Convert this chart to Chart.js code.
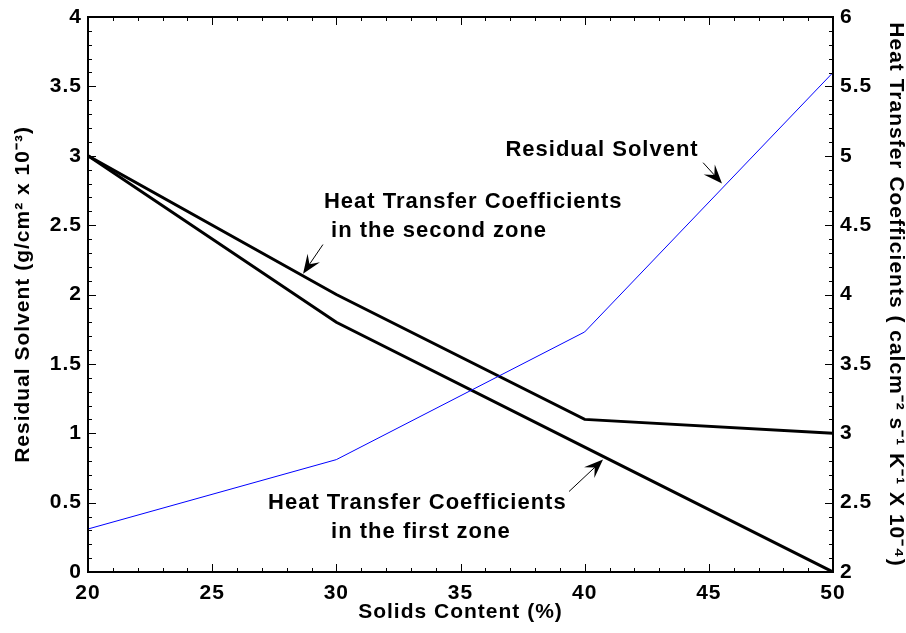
<!DOCTYPE html>
<html>
<head>
<meta charset="utf-8">
<script src="https://cdn.jsdelivr.net/npm/chart.js@4"></script>
<style>
  html, body { margin: 0; padding: 0; background: #fff; }
  #wrap { width: 906px; height: 633px; position: relative; }
</style>
</head>
<body>
<div id="wrap"><canvas id="chart"></canvas></div>
<script>
  const solids = [20, 30, 40, 50];
  const residualSolvent = [0.31, 0.81, 1.73, 3.6];
  const htcSecondZone = [5.0, 4.0, 3.1, 3.0];
  const htcFirstZone = [5.0, 3.8, 2.9, 2.0];

  const FONT = '"Liberation Sans", Arial, sans-serif';

  // annotation texts and arrows, in data units (x, left y)
  const notes = [
    { text: "Residual Solvent", x: 40.7, y: 3.04, align: "center" },
    { text: "Heat Transfer Coefficients", x: 29.5, y: 2.67, align: "left" },
    { text: " in the second zone", x: 29.5, y: 2.46, align: "left" },
    { text: "Heat Transfer Coefficients", x: 27.25, y: 0.50, align: "left" },
    { text: "in the first zone", x: 29.79, y: 0.29, align: "left" },
  ];
  const arrows = [
    { from: [44.77, 2.95], to: [45.53, 2.80] },
    { from: [29.46, 2.36], to: [28.66, 2.15] },
    { from: [39.37, 0.58], to: [40.74, 0.81] },
  ];

  const spacingPlugin = {
    id: "spacing",
    beforeDraw(chart) { chart.ctx.letterSpacing = "1px"; }
  };

  const framePlugin = {
    id: "frame",
    afterDatasetsDraw(chart) {
      const { ctx, chartArea: a, scales } = chart;
      ctx.save();
      ctx.strokeStyle = "#000";
      ctx.lineWidth = 2;
      ctx.strokeRect(a.left, a.top, a.right - a.left, a.bottom - a.top);

      // inward ticks, minor + major
      ctx.lineWidth = 1;
      ctx.beginPath();
      for (let v = 20; v <= 50; v++) {
        const px = Math.round(scales.x.getPixelForValue(v)) + 0.5;
        const len = v % 5 === 0 ? 8 : 4;
        ctx.moveTo(px, a.bottom); ctx.lineTo(px, a.bottom - len);
        ctx.moveTo(px, a.top); ctx.lineTo(px, a.top + len);
      }
      for (let i = 0; i <= 40; i++) {
        const py = Math.round(scales.y.getPixelForValue(i / 10)) + 0.5;
        const len = i % 5 === 0 ? 8 : 4;
        ctx.moveTo(a.left, py); ctx.lineTo(a.left + len, py);
      }
      for (let i = 20; i <= 60; i++) {
        const py = Math.round(scales.y1.getPixelForValue(i / 10)) + 0.5;
        const len = i % 5 === 0 ? 8 : 4;
        ctx.moveTo(a.right, py); ctx.lineTo(a.right - len, py);
      }
      ctx.stroke();

      // annotations
      ctx.fillStyle = "#000";
      ctx.font = "bold 22px " + FONT;
      ctx.letterSpacing = "1px";
      ctx.textBaseline = "middle";
      notes.forEach(n => {
        ctx.textAlign = n.align;
        ctx.fillText(n.text, scales.x.getPixelForValue(n.x), scales.y.getPixelForValue(n.y));
      });
      arrows.forEach(ar => {
        const x0 = scales.x.getPixelForValue(ar.from[0]), y0 = scales.y.getPixelForValue(ar.from[1]);
        const x1 = scales.x.getPixelForValue(ar.to[0]), y1 = scales.y.getPixelForValue(ar.to[1]);
        const ang = Math.atan2(y1 - y0, x1 - x0), c = Math.cos(ang), s = Math.sin(ang);
        const L = 19, W = 7.5;
        ctx.beginPath();
        ctx.moveTo(x0, y0);
        ctx.lineTo(x1 - c * 10, y1 - s * 10);
        ctx.stroke();
        ctx.beginPath();
        ctx.moveTo(x1, y1);
        ctx.lineTo(x1 - L * c + W * s, y1 - L * s - W * c);
        ctx.lineTo(x1 - 0.6 * L * c, y1 - 0.6 * L * s);
        ctx.lineTo(x1 - L * c - W * s, y1 - L * s + W * c);
        ctx.closePath();
        ctx.fill();
      });
      ctx.restore();
    }
  };

  const tickFont = { family: FONT, size: 21, weight: "bold" };
  const titleFont = { family: FONT, size: 21, weight: "bold" };
  const fmt = v => String(v);

  new Chart(document.getElementById("chart"), {
    type: "line",
    data: {
      datasets: [
        { label: "Residual Solvent", data: solids.map((x, i) => ({ x, y: residualSolvent[i] })), borderColor: "#0000ff", borderWidth: 1, pointRadius: 0, yAxisID: "y" },
        { label: "HTC second zone", data: solids.map((x, i) => ({ x, y: htcSecondZone[i] })), borderColor: "#000", borderWidth: 3, pointRadius: 0, yAxisID: "y1" },
        { label: "HTC first zone", data: solids.map((x, i) => ({ x, y: htcFirstZone[i] })), borderColor: "#000", borderWidth: 3, pointRadius: 0, yAxisID: "y1" },
      ]
    },
    options: {
      responsive: true, maintainAspectRatio: false, animation: false,
      layout: { padding: { top: 17, left: 0, right: 0, bottom: 0 } },
      plugins: { legend: { display: false }, tooltip: { enabled: false } },
      scales: {
        x: {
          type: "linear", min: 20, max: 50,
          grid: { display: false, drawTicks: false }, border: { display: false },
          ticks: { stepSize: 5, padding: 9, color: "#000", font: tickFont, callback: fmt },
          title: { display: true, text: "Solids Content (%)", color: "#000", font: titleFont, padding: { top: 0, bottom: 8 } },
          afterFit: s => { s.height = 61; s.paddingLeft = 0; s.paddingRight = 0; }
        },
        y: {
          position: "left", min: 0, max: 4,
          grid: { display: false, drawTicks: false }, border: { display: false },
          ticks: { stepSize: 0.5, padding: 6, color: "#000", font: tickFont, callback: fmt },
          title: { display: true, text: "Residual Solvent (g/cm\u00b2 x 10\u207b\u00b3)", color: "#000", font: titleFont, padding: { top: 11, bottom: 0 } },
          afterFit: s => { s.width = 88; s.paddingTop = 0; s.paddingBottom = 0; }
        },
        y1: {
          position: "right", min: 2, max: 6,
          grid: { display: false, drawTicks: false }, border: { display: false },
          ticks: { stepSize: 0.5, padding: 7, color: "#000", font: tickFont, callback: fmt },
          title: { display: true, text: "Heat Transfer Coefficients ( calcm\u207b\u00b2 s\u207b\u00b9 K\u207b\u00b9 X 10\u207b\u2074)", color: "#000", font: { family: FONT, size: 21, weight: "bold", lineHeight: 1 }, padding: { top: 0, bottom: 0 } },
          afterFit: s => { s.width = 73; s.paddingTop = 0; s.paddingBottom = 0; }
        }
      }
    },
    plugins: [spacingPlugin, framePlugin]
  });
</script>
</body>
</html>
